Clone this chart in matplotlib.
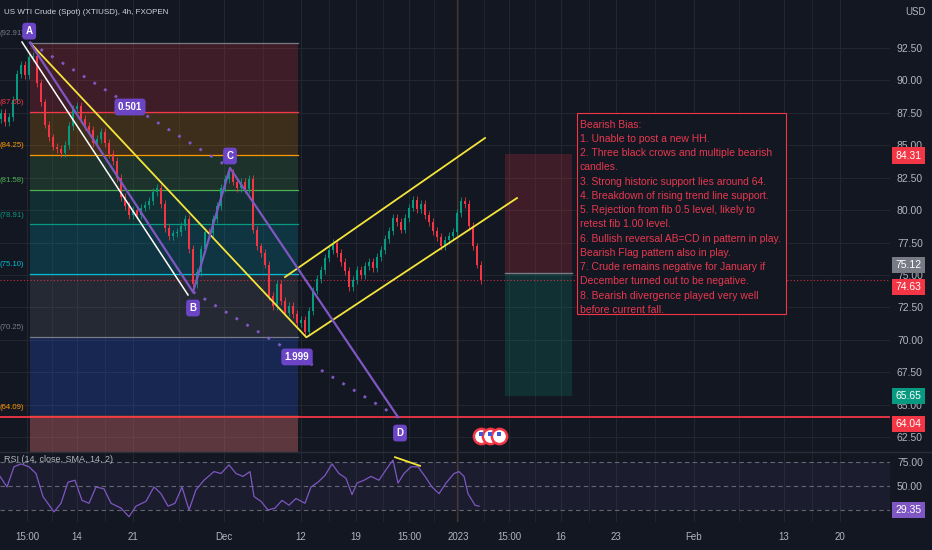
import numpy as np
import matplotlib
matplotlib.use('Agg')
import matplotlib.pyplot as plt
from matplotlib.patches import Rectangle
import matplotlib.transforms as mtransforms

plt.rcParams['font.family'] = ['Liberation Sans', 'DejaVu Sans']

BG = '#131722'
GRID = '#22262f'
TXT = '#b2b5be'
UP = '#089981'
DOWN = '#f23645'
PURPLE = '#7e57c2'
LABEL_BG = '#6b45c6'

title = 'US WTI Crude (Spot) (XTIUSD), 4h, FXOPEN'

# closes, one candle per slot on the x axis (oldest first)
first_open = 87.0
closes = [87.5, 86.8, 87.2, 88.5, 90.5, 91.2, 90.4, 91.8, 91.9, 89.8,
          88.3, 86.6, 85.6, 84.9, 84.7, 84.4, 85.0, 86.5, 87.8, 88.0,
          87.0, 86.5, 86.2, 85.2, 85.5, 86.0, 85.2, 84.3, 83.8, 82.5,
          81.0, 80.3, 79.6, 80.0, 79.6, 80.2, 80.4, 80.7, 81.4, 81.7,
          80.5, 78.6, 78.0, 78.2, 78.3, 78.8, 79.3, 77.0, 74.3, 75.2,
          77.0, 78.3, 78.2, 79.3, 80.3, 81.7, 82.4, 82.9, 82.2, 81.7,
          82.2, 81.6, 82.4, 78.5, 77.2, 76.7, 75.8, 73.4, 72.6, 74.3,
          73.0, 72.1, 72.6, 72.0, 71.3, 71.5, 70.6, 72.2, 73.8, 74.7,
          75.4, 76.3, 76.9, 77.5, 76.7, 76.0, 75.3, 74.1, 74.6, 75.4,
          75.0, 75.7, 76.0, 75.5, 76.4, 76.9, 77.8, 78.4, 79.4, 79.1,
          78.5, 79.4, 80.2, 80.8, 80.1, 80.5, 79.6, 79.1, 78.4, 77.9,
          77.2, 77.7, 78.0, 78.3, 79.8, 80.7, 80.5, 78.8, 77.2, 75.8,
          74.63]

tick_pos = [6.75, 19.25, 33.25, 56, 75.25, 89, 102.25, 114.5, 127.25,
            140.25, 154, 173.5, 196, 210]
tick_labels = ['15:00', '14', '21', 'Dec', '12', '19', '15:00', '2023',
               '15:00', '16', '23', 'Feb', '13', '20']
price_ticks = [62.5, 65.0, 67.5, 70.0, 72.5, 75.0, 77.5, 80.0, 82.5,
               85.0, 87.5, 90.0, 92.5]

# fibonacci retracement
fib_levels = [92.91, 87.56, 84.25, 81.58, 78.91, 75.10, 70.25, 64.09, 60.87]
fib_lines = ['#787b86', '#f23645', '#ff9800', '#4caf50', '#089981',
             '#00bcd4', '#787b86', '#ff9800', '#e57373']
fib_fills = ['#f23645', '#ff9800', '#4caf50', '#089981', '#00bcd4',
             '#787b86', '#2962ff', '#e57373']
fib_alpha = [0.2, 0.18, 0.18, 0.18, 0.18, 0.18, 0.22, 0.35]
fib_x0, fib_x1 = 7.5, 74.5

# AB=CD pattern points
pts = {'A': (7.5, 92.91), 'B': (48.25, 73.69), 'C': (57.5, 83.25),
       'D': (99.5, 64.04)}
white_line = [(5.5, 92.96), (47.0, 73.46)]
yellow_lines = [[(7.5, 92.91), (76.5, 70.22)],
                [(71.25, 74.84), (121.25, 85.56)],
                [(76.75, 70.22), (129.25, 80.93)]]

# long/short position tool
pos_x0, pos_x1 = 126.25, 143.0
stop, entry, target = 84.31, 75.12, 65.65
support = 64.04
last_price = 74.63

# RSI
rsi_t = [0, 1.75, 3.5, 5.25, 7.25, 9, 10.75, 13.5, 15.25, 17,
         18.75, 20.5, 22.25, 24, 26, 27.75, 30.25, 32.25, 34, 36.5,
         38.5, 40.25, 42, 43.75, 45.5, 47.25, 49, 51, 53.5, 55.25,
         57.25, 59, 60.75, 62.5, 63.5, 65.25, 67, 68.75, 70.5, 72.25,
         74, 76.25, 77.75, 79.5, 81.25, 83, 84.75, 86.5, 88, 89.25,
         91, 92.75, 94.75, 96.5, 98.25, 99.5, 101, 102.75, 104.5, 106.25,
         108, 109.75, 111.5, 113.5, 114.75, 116, 117, 118.75, 119.75]
rsi = [60, 49, 70, 73, 70, 63, 39, 23, 32, 54,
       56, 35, 32, 49, 47, 32, 27, 18, 29, 34,
       49, 42, 29, 32, 49, 25, 46, 56, 65, 63,
       72, 63, 60, 65, 39, 34, 25, 27, 35, 30,
       37, 32, 49, 54, 61, 73, 63, 58, 41, 53,
       56, 60, 56, 67, 77, 53, 63, 70, 70, 60,
       49, 42, 53, 63, 65, 60, 42, 30, 29]
rsi_last = 29.35

notes = ['Bearish Bias:',
         '1. Unable to post a new HH.',
         '2. Three black crows and multiple bearish',
         'candles.',
         '3. Strong historic support lies around 64.',
         '4. Breakdown of rising trend line support.',
         '5. Rejection from fib 0.5 level, likely to',
         'retest fib 1.00 level.',
         '6. Bullish reversal AB=CD in pattern in play.',
         'Bearish Flag pattern also in play.',
         '7. Crude remains negative for January if',
         'December turned out to be negative.',
         '8. Bearish divergence played very well',
         'before current fall.']

fig = plt.figure(figsize=(9.32, 5.5), dpi=100, facecolor=BG)
ax = fig.add_axes([0, 98 / 550, 890 / 932, 452 / 550])
ax2 = fig.add_axes([0, 28 / 550, 890 / 932, 70 / 550], sharex=ax)
for a in (ax, ax2):
    a.set_facecolor(BG)
    for s in a.spines.values():
        s.set_visible(False)

ax.set_xlim(0, 222.5)
ax.set_ylim(61.35, 96.2)
ax2.set_ylim(12.5, 85.4)

# grid
for t in tick_pos:
    ax.axvline(t, color=GRID, lw=0.8, zorder=0)
    ax2.axvline(t, color=GRID, lw=0.8, zorder=0)
for t1, t2 in zip(tick_pos[:-1], tick_pos[1:]):
    ax.axvline((t1 + t2) / 2, color=GRID, lw=0.6, zorder=0)
    ax2.axvline((t1 + t2) / 2, color=GRID, lw=0.6, zorder=0)
for p in price_ticks:
    ax.axhline(p, color=GRID, lw=0.8, zorder=0)

# fib zones
for i in range(len(fib_fills)):
    ax.fill_between([fib_x0, fib_x1], fib_levels[i + 1], fib_levels[i],
                    color=fib_fills[i], alpha=fib_alpha[i], lw=0, zorder=1)
for lev, c in zip(fib_levels, fib_lines):
    ax.plot([fib_x0, fib_x1], [lev, lev], color=c, lw=0.9, zorder=2)
    if lev > 62:
        ax.text(-0.2, lev + 0.7, '(%.2f)' % lev, color=c, fontsize=5.6,
                ha='left', va='center', zorder=6)

# year separator
ax.axvline(114.25, color='#5d4526', lw=0.9, alpha=0.7, zorder=1)
ax2.axvline(114.25, color='#5d4526', lw=0.9, alpha=0.7, zorder=1)

# position tool
ax.add_patch(Rectangle((pos_x0, entry), pos_x1 - pos_x0, stop - entry,
                       fc=DOWN, alpha=0.2, lw=0, zorder=1))
ax.add_patch(Rectangle((pos_x0, target), pos_x1 - pos_x0, entry - target,
                       fc=UP, alpha=0.2, lw=0, zorder=1))
ax.plot([pos_x0, pos_x1], [entry, entry], color='#787b86', lw=1.0, zorder=2)

# candles
opens = [first_open] + closes[:-1]
xs = np.arange(len(closes)) + 0.25
for x, o, c in zip(xs, opens, closes):
    col = UP if c >= o else DOWN
    lo, hi = min(o, c), max(o, c)
    ax.vlines(x, lo - 0.3, hi + 0.3, color=col, lw=0.6, zorder=3)
    ax.bar(x, max(hi - lo, 0.08), bottom=lo, width=0.7, color=col,
           lw=0, zorder=3)

# horizontal lines
ax.axhline(support, color=DOWN, lw=1.3, zorder=4)
ax.axhline(last_price, color=DOWN, lw=0.8, ls=(0, (1, 2)), alpha=0.8, zorder=2)

# pattern lines
ax.plot(*zip(*white_line), color='white', lw=1.1, zorder=5)
for seg in yellow_lines:
    ax.plot(*zip(*seg), color='#f5e53b', lw=1.3, zorder=5)
abcd_xy = [pts[k] for k in 'ABCD']
ax.plot(*zip(*abcd_xy), color=PURPLE, lw=1.6, zorder=5)
ax.plot(*zip(pts['A'], pts['C']), color=PURPLE, lw=2, ls=(0, (1, 3.5)), zorder=5)
ax.plot(*zip(pts['B'], pts['D']), color=PURPLE, lw=2, ls=(0, (1, 3.5)), zorder=5)

lbl = dict(color='white', fontsize=7, fontweight='bold', ha='center',
           va='center', zorder=9)
box = dict(boxstyle='round,pad=0.35', fc=LABEL_BG, ec='none')
ax.text(7.3, 93.8, 'A', bbox=box, **lbl)
ax.text(48.25, 72.45, 'B', bbox=box, **lbl)
ax.text(57.5, 84.17, 'C', bbox=box, **lbl)
ax.text(100.0, 62.81, 'D', bbox=box, **lbl)
ax.text(32.5, 87.95, '0.501', bbox=box, **lbl)
ax.text(74.25, 68.68, '1.999', bbox=box, **lbl)

# economic event icons
ev_x = [120.25, 122.5, 124.75]
ax.scatter(ev_x, [62.55] * 3, s=120, fc='white', ec=DOWN, lw=1.8, zorder=8)
ax.scatter(ev_x, [62.75] * 3, s=10, marker='s', fc='#3a5bd9', lw=0, zorder=9)

# notes box
ax.add_patch(Rectangle((144.25, 71.99), 52.25, 15.5, fc=BG, ec=DOWN,
                       lw=0.8, zorder=7))
for i, line in enumerate(notes):
    ax.text(145.0, 86.6 - i * 1.1, line, color='#e8384f', fontsize=7.5,
            ha='left', va='center', zorder=8)

# price axis
ax.yaxis.tick_right()
ax.set_yticks(price_ticks, ['%.2f' % p for p in price_ticks])
ax.tick_params(axis='y', colors=TXT, labelsize=7.5, length=0, pad=5)
ax.tick_params(axis='x', bottom=False, labelbottom=False)

tr = mtransforms.blended_transform_factory(ax.transAxes, ax.transData)
tags = [(stop, DOWN, 'white', -1), (entry, '#787b86', 'white', 6),
        (last_price, DOWN, 'white', -5), (target, UP, 'white', 0),
        (support, DOWN, 'white', -5)]
for val, fc, tc, dy in tags:
    ax.annotate('%.2f' % val, (1.0, val), xycoords=tr, xytext=(4, dy),
                textcoords='offset points', color=tc, fontsize=7.5,
                ha='left', va='center', annotation_clip=False, zorder=10,
                bbox=dict(boxstyle='square,pad=0.3', fc=fc, ec='none'))

# RSI panel
ax2.axhspan(25, 75, color=PURPLE, alpha=0.08, lw=0)
for lev in (75, 50, 25):
    ax2.axhline(lev, color='#787b86', lw=0.8, ls=(0, (4, 3)), alpha=0.8)
ax2.plot(rsi_t, rsi, color=PURPLE, lw=0.9, zorder=3)
ax2.plot([98.75, 105], [80, 71], color='#f5e53b', lw=1.3, zorder=4)
ax2.text(1, 78, 'RSI (14, close, SMA, 14, 2)', color=TXT, fontsize=6.5,
         ha='left', va='center')
ax2.yaxis.tick_right()
ax2.set_yticks([75, 50], ['75.00', '50.00'])
ax2.tick_params(axis='y', colors=TXT, labelsize=7.5, length=0, pad=5)
tr2 = mtransforms.blended_transform_factory(ax2.transAxes, ax2.transData)
ax2.annotate('%.2f' % rsi_last, (1.0, rsi_last), xycoords=tr2, xytext=(4, -3),
             textcoords='offset points', color='white', fontsize=7.5,
             ha='left', va='center', annotation_clip=False, zorder=10,
             bbox=dict(boxstyle='square,pad=0.3', fc=PURPLE, ec='none'))
ax2.set_xticks(tick_pos, tick_labels)
ax2.tick_params(axis='x', colors=TXT, labelsize=7, length=0, pad=7)

fig.add_artist(plt.Line2D([0, 1], [98 / 550, 98 / 550], color='#2a2e39', lw=1))
fig.text(4 / 932, 1 - 13 / 550, title, color='#d1d4dc', fontsize=5.8,
         ha='left', va='center')
fig.text(905 / 932, 1 - 12 / 550, 'USD', color=TXT, fontsize=7,
         ha='left', va='center')

fig.savefig('out.png', dpi=100, facecolor=BG)
